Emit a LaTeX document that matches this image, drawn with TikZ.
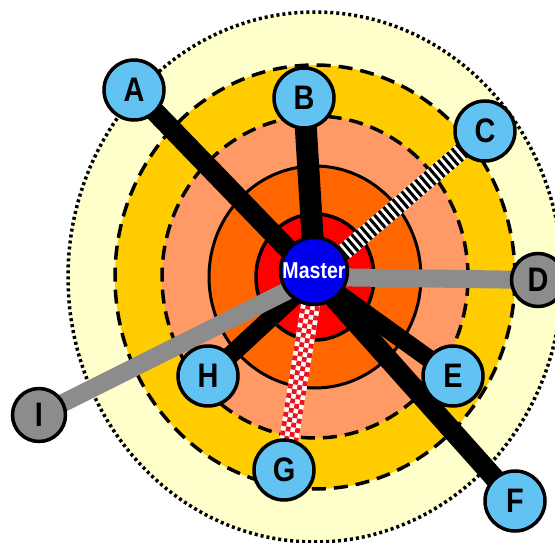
\documentclass[tikz,border=0pt]{standalone}
\usepackage{fontspec}
\usepackage{graphicx}
\setmainfont{Liberation Sans}
\usetikzlibrary{calc}
\pgfdeclarelayer{back}
\pgfdeclarelayer{mid}
\pgfsetlayers{back,mid,main}
\definecolor{lightyel}{HTML}{FFFFCC}
\definecolor{yelorange}{HTML}{FFCC00}
\definecolor{salmonring}{HTML}{FF9966}
\definecolor{darkorangering}{HTML}{FF6600}
\definecolor{redring}{HTML}{FF0000}
\definecolor{masterblue}{HTML}{0000EE}
\definecolor{nodeblue}{HTML}{62C3F2}
\definecolor{nodegray}{HTML}{8C8C8C}
\definecolor{checkred}{HTML}{E8141E}
\tikzset{
  letternode/.style={circle, draw=black, line width=3.5pt, fill=nodeblue, minimum size=60pt, inner sep=0pt,
    font=\fontsize{34}{34}\selectfont\bfseries},
  graynode/.style={letternode, fill=nodegray, minimum size=53pt},
  masternode/.style={circle, draw=black, line width=3.5pt, fill=masterblue, minimum size=67pt, inner sep=0pt,
    text=white, font=\fontsize{23}{23}\selectfont\bfseries},
  solidring/.style={draw=black, line width=3pt},
  dashring/.style={draw=black, line width=3.5pt, dash pattern=on 14pt off 8pt},
  dotring/.style={draw=black, line width=3.5pt, dash pattern=on 3pt off 3pt},
  graywire/.style={draw=nodegray, line width=18pt},
}
\begin{document}
\begin{tikzpicture}[x=1pt,y=-1pt]
\useasboundingbox (0,0) rectangle (555,543);
\coordinate (hub) at (315,277);
% rings
\begin{pgfonlayer}{back}
\fill[white] (0,0) rectangle (555,543);
\fill[lightyel] (hub) ellipse [x radius=247pt, y radius=265pt];
\draw[dotring] (hub) ellipse [x radius=247pt, y radius=265pt];
\fill[yelorange] (hub) ellipse [x radius=200pt, y radius=212pt];
\draw[dashring] (hub) ellipse [x radius=200pt, y radius=212pt];
\fill[salmonring] (hub) ellipse [x radius=153pt, y radius=161pt];
\draw[dashring] (hub) ellipse [x radius=153pt, y radius=161pt];
\fill[darkorangering] (hub) ellipse [x radius=106pt, y radius=111pt];
\draw[solidring] (hub) ellipse [x radius=106pt, y radius=111pt];
\fill[redring] (hub) ellipse [x radius=59pt, y radius=63pt];
\draw[solidring, line width=3.5pt] (hub) ellipse [x radius=59pt, y radius=63pt];
\end{pgfonlayer}
% nodes
\node[letternode] (A) at (134,90) {\scalebox{0.85}[1]{A}};
\node[letternode] (B) at (304,98) {\scalebox{0.85}[1]{B}};
\node[letternode] (C) at (485,131) {\scalebox{0.85}[1]{C}};
\node[graynode] (D) at (538,280) {\scalebox{0.85}[1]{D}};
\node[letternode] (E) at (453,376) {\scalebox{0.85}[1]{E}};
\node[letternode] (F) at (515,501) {\scalebox{0.85}[1]{F}};
\node[letternode] (G) at (284,470) {\scalebox{0.85}[1]{G}};
\node[letternode] (H) at (208,376) {\scalebox{0.85}[1]{H}};
\node[graynode] (I) at (39,415) {\scalebox{0.85}[1]{I}};
\node[masternode] (M) at (314,271) {\scalebox{0.85}[1]{Master}};
% connectors
\begin{pgfonlayer}{mid}
\draw[line width=20pt] (A.center) -- (hub);
\draw[line width=22pt] (B.center) -- (hub);
\draw[line width=18pt] (E.center) -- (hub);
\draw[line width=20pt] (F.center) -- (hub);
\draw[line width=18pt] (H.center) -- (hub);
\draw[graywire] (D.center) -- (hub);
\draw[graywire] (I.center) -- (hub);
\draw[line width=17pt, white] (hub) -- (C.center);
\draw[line width=17pt, black, dash pattern=on 3pt off 3pt] (hub) -- (C.center);
\draw[line width=19pt, white] (hub) -- (G.center);
\foreach \d/\a/\ph in {7.125/90/0, 2.375/90/4.75, 2.375/-90/0, 7.125/-90/4.75}{
  \draw[line width=4.75pt, checkred, dash pattern=on 4.75pt off 4.75pt, dash phase=\ph pt]
    ($(hub)!\d pt!\a:(G.center)$) -- ($(G.center)!\d pt!-\a:(hub)$);
}
\end{pgfonlayer}
\end{tikzpicture}
\end{document}
